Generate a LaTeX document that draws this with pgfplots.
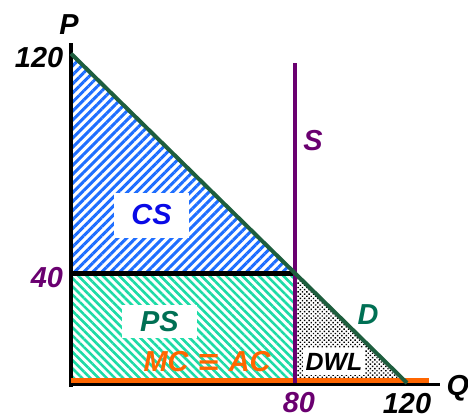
\documentclass[border=0pt]{standalone}
\usepackage{pgfplots}
\pgfplotsset{compat=1.18}
\usetikzlibrary{patterns.meta}
\usepackage{fontspec}
\setmainfont{Liberation Sans}
\newfontfamily\symfont{DejaVu Sans}

\definecolor{csblue}{RGB}{30,110,255}
\definecolor{cstext}{RGB}{10,10,230}
\definecolor{psteal}{RGB}{28,219,166}
\definecolor{pstext}{RGB}{0,112,84}
\definecolor{demand}{RGB}{30,94,62}
\definecolor{supply}{RGB}{106,0,112}
\definecolor{mcorange}{RGB}{255,102,0}

\newcommand\lbl{\fontsize{29}{32}\selectfont\bfseries\itshape}
\newcommand\lblsmall{\fontsize{25}{28}\selectfont\bfseries\itshape}

\begin{document}
\begin{tikzpicture}
\begin{axis}[
  width=468bp, height=419bp, scale only axis,
  hide axis, clip=false,
  xmin=-25.36, xmax=141.79,
  ymin=-13.11, ymax=139.53,
]
% consumer surplus
\addplot[draw=none, pattern={Lines[angle=45,distance=6.4bp,line width=3bp]}, pattern color=csblue]
  coordinates {(0,40) (0,120) (80,40)} -- cycle;
% producer surplus
\addplot[draw=none, pattern={Lines[angle=-45,distance=5.8bp,line width=2.6bp]}, pattern color=psteal]
  coordinates {(0,0) (0,40) (80,40) (80,0)} -- cycle;
% deadweight loss
\addplot[draw=none, pattern={Dots[distance=3.1bp,radius=1bp,angle=45]}, pattern color=black]
  coordinates {(80,0) (80,40) (120,0)} -- cycle;

% price line at 40
\addplot[black, line width=5bp] coordinates {(0,40) (80,40)};
% axes
\addplot[black, line width=3.2bp] coordinates {(0,-1.5) (0,123.9)};
\addplot[black, line width=3bp] coordinates {(0,-0.55) (131.8,-0.55)};
% MC = AC
\addplot[mcorange, line width=5bp] coordinates {(0,0.9) (128,0.9)};
% supply
\addplot[supply, line width=4.2bp] coordinates {(80,0) (80,116.6)};
% demand
\addplot[demand, line width=4bp] coordinates {(0,120) (120,0)};

% area labels
\node[fill=white, minimum width=75bp, minimum height=45bp, inner sep=0pt,
      font=\lbl, text=cstext] at (axis cs:28.75,61.0) {\raisebox{2bp}{CS}};
\node[fill=white, minimum width=75bp, minimum height=33bp, inner sep=0pt,
      font=\lbl, text=pstext] at (axis cs:31.6,22.4) {PS};
\node[fill=white, minimum width=62bp, minimum height=27bp, inner sep=0pt,
      font=\lblsmall, text=black] at (axis cs:93.9,7.8) {DWL};
\node[font=\lbl, text=mcorange] at (axis cs:48.6,7.65) {MC {\symfont\bfseries\upshape ≡} AC};

% curve labels
\node[font=\lbl, text=pstext] at (axis cs:106.1,24.8) {D};
\node[font=\lbl, text=supply] at (axis cs:86.4,88.5) {S};

% axis labels and values
\node[font=\lbl] at (axis cs:-0.7,130.4) {P};
\node[font=\lbl] at (axis cs:138.2,-1.8) {Q};
\node[font=\lbl] at (axis cs:-11.4,118.4) {120};
\node[font=\lbl, text=supply] at (axis cs:-8.6,38.3) {40};
\node[font=\lbl, text=supply] at (axis cs:81.4,-7.2) {80};
\node[font=\lbl] at (axis cs:120,-7.6) {120};
\end{axis}
\pgfresetboundingbox
\useasboundingbox (current axis.south west) rectangle (current axis.north east);
\end{tikzpicture}
\end{document}
